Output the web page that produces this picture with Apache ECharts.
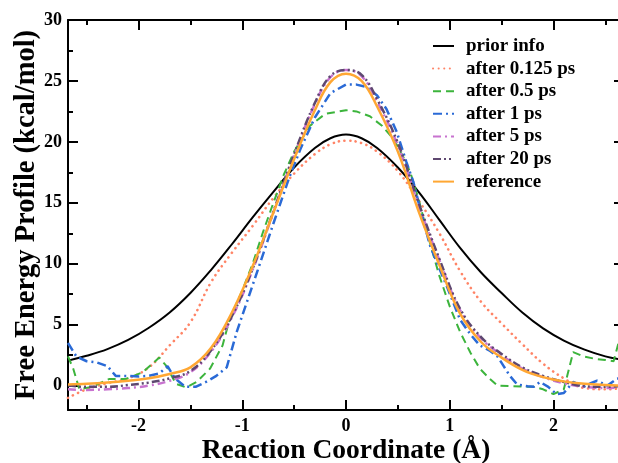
<!DOCTYPE html>
<html>
<head>
<meta charset="utf-8">
<script src="https://cdn.jsdelivr.net/npm/echarts@6/dist/echarts.min.js"></script>
<style>html,body{margin:0;padding:0;background:#fff}#c{width:618px;height:463px}</style>
</head>
<body>
<div id="c"></div>
<script>
// ---- data ----
const seriesNames = ['prior info','after 0.125 ps','after 0.5 ps','after 1 ps','after 5 ps','after 20 ps','reference'];
const xMajorTicks = [-2,-1,0,1,2];
const xMinorTicks = [-2.5,-1.5,-0.5,0.5,1.5,2.5];
const yMajorTicks = [0,5,10,15,20,25,30];
const yMinorTicks = [2.5,7.5,12.5,17.5,22.5,27.5];

const smoothX = [-2.68,-2.5,-2.3,-2.1,-1.9,-1.7,-1.5,-1.3,-1.1,-0.9,-0.7,-0.5,-0.3,-0.15,0,0.15,0.3,0.5,0.7,0.9,1.1,1.3,1.5,1.7,1.9,2.1,2.3,2.5,2.68];
const priorY = [2.05,2.45,3.0,3.75,4.75,6.0,7.6,9.5,11.6,13.8,15.9,17.9,19.5,20.3,20.6,20.3,19.5,17.9,15.9,13.6,11.3,9.3,7.6,6.0,4.7,3.7,2.95,2.4,2.1];
const ps0125Y = [-1.0,-0.3,0.2,0.6,1.5,3.3,5.2,8.5,10.9,13.1,15.4,17.4,19.0,19.8,20.1,19.9,19.2,17.6,15.2,12.5,9.4,6.9,5.1,3.4,1.8,0.6,-0.2,-0.3,-0.2];
const ps5Y = [-0.3,-0.35,-0.3,-0.2,0.0,0.4,1.1,2.8,5.6,9.5,14.2,18.9,23.1,25.3,25.9,25.4,23.3,19.7,14.8,10.3,6.2,3.9,2.5,1.4,0.7,0.2,-0.1,-0.2,-0.1];
const ps20Y = [0.0,-0.1,-0.1,0.05,0.25,0.6,1.2,2.9,5.7,9.6,14.3,19.0,23.2,25.4,25.9,25.5,23.5,19.9,15.0,10.4,6.3,4.0,2.6,1.5,0.8,0.3,-0.05,-0.1,0.0];
const referenceY = [0.1,0.15,0.25,0.4,0.6,0.95,1.5,3.1,6.0,9.8,14.2,18.6,22.6,24.9,25.6,25.0,22.9,19.2,14.3,9.9,5.9,3.6,2.3,1.3,0.7,0.35,0.15,0.05,0.0];

const ps05X = [-2.68,-2.63,-2.57,-2.45,-2.28,-2.12,-1.96,-1.8,-1.73,-1.64,-1.54,-1.44,-1.31,-1.19,-1.12,-1.0,-0.9,-0.8,-0.7,-0.6,-0.5,-0.35,-0.2,0,0.1,0.23,0.35,0.46,0.55,0.62,0.7,0.8,0.9,1.0,1.1,1.2,1.29,1.38,1.46,1.6,1.81,1.9,2.0,2.1,2.19,2.29,2.4,2.5,2.58,2.63,2.68];
const ps05Y = [2.4,1.4,-0.3,-0.1,0.55,0.55,1.1,2.3,1.6,0.15,-0.15,0.3,1.4,3.3,5.5,7.8,10.0,12.6,15.0,17.3,19.2,21.3,22.3,22.6,22.5,22.1,21.3,20.2,18.8,17.5,15.3,12.0,9.0,6.5,4.4,2.7,1.4,0.6,0.0,-0.05,-0.1,-0.3,-0.7,-0.3,2.75,2.4,2.2,2.1,2.0,3.6,4.5];

const ps1X = [-2.68,-2.6,-2.5,-2.4,-2.3,-2.22,-2.1,-2.0,-1.9,-1.8,-1.72,-1.65,-1.55,-1.45,-1.35,-1.25,-1.15,-1.05,-0.95,-0.85,-0.7,-0.55,-0.44,-0.3,-0.15,0,0.1,0.2,0.3,0.39,0.49,0.58,0.65,0.73,0.81,0.9,0.97,1.1,1.2,1.29,1.38,1.46,1.52,1.58,1.65,1.75,1.81,1.87,1.95,2.03,2.1,2.19,2.29,2.36,2.42,2.52,2.61,2.68];
const ps1Y = [3.5,2.4,2.0,1.9,1.6,0.8,0.8,0.75,0.8,1.0,1.6,0.6,-0.1,-0.1,0.3,0.8,1.5,4.5,7.0,9.5,13.3,17.0,19.4,22.0,24.0,24.7,24.7,24.5,23.8,22.7,20.8,18.4,16.7,14.0,11.5,9.6,8.2,5.4,4.2,3.3,2.9,2.4,1.6,0.8,0.1,-0.05,-0.1,0.3,-0.1,-0.7,-0.6,0.3,-0.1,0.2,0.4,0.0,0.55,0.7];

const zip = (xs, ys) => xs.map((x, i) => [x, ys[i]]);

const FONT = '"Liberation Serif","Times New Roman",serif';
const XMIN = -2.68, XMAX = 2.68, YMIN = -2, YMAX = 30;

function xAx(grid, pos, major, labels) {
  return {
    type: 'value', gridIndex: grid, position: pos, min: XMIN, max: XMAX,
    axisLine: { show: major, onZero: false, lineStyle: { color: '#000', width: 2 } },
    axisTick: { show: true, inside: true, length: major ? 10 : 5, customValues: major ? xMajorTicks : xMinorTicks, lineStyle: { color: '#000', width: 2 } },
    axisLabel: { show: labels, customValues: xMajorTicks, margin: 7, fontFamily: FONT, fontWeight: 'bold', fontSize: 18, color: '#000' },
    splitLine: { show: false }
  };
}
function yAx(grid, pos, major, labels) {
  return {
    type: 'value', gridIndex: grid, position: pos, min: YMIN, max: YMAX,
    axisLine: { show: major, onZero: false, lineStyle: { color: '#000', width: 2 } },
    axisTick: { show: true, inside: true, length: major ? 10 : 5, customValues: major ? yMajorTicks : yMinorTicks, lineStyle: { color: '#000', width: 2 } },
    axisLabel: { show: labels, customValues: yMajorTicks, margin: 6, fontFamily: FONT, fontWeight: 'bold', fontSize: 18, color: '#000' },
    splitLine: { show: false }
  };
}

const xMain = xAx(0, 'bottom', true, true);
xMain.name = 'Reaction Coordinate (Å)';
xMain.nameLocation = 'middle';
xMain.nameGap = 27;
xMain.nameMoveOverlap = false;
xMain.nameTextStyle = { fontFamily: FONT, fontWeight: 'bold', fontSize: 27.5, color: '#000' };
const yMain = yAx(0, 'left', true, true);
yMain.name = 'Free Energy Profile (kcal/mol)';
yMain.nameLocation = 'middle';
yMain.nameRotate = 90;
yMain.nameGap = 26.5;
yMain.nameMoveOverlap = false;
yMain.nameTextStyle = { fontFamily: FONT, fontWeight: 'bold', fontSize: 28.5, color: '#000' };

const styles = [
  { color: '#000000', width: 2, type: 'solid' },
  { color: '#ff8466', width: 2.6, type: [0.1, 5.5], cap: 'round' },
  { color: '#3cb43c', width: 2, type: [8, 5] },
  { color: '#2a6ad6', width: 2.5, type: [9, 4, 2, 4] },
  { color: '#c873cf', width: 2.5, type: [8, 4, 2, 4] },
  { color: '#5e4870', width: 2.5, type: [8, 3, 2, 3, 2, 3] },
  { color: '#ffa733', width: 2.5, type: 'solid' }
];
const datasets = [
  zip(smoothX, priorY), zip(smoothX, ps0125Y), zip(ps05X, ps05Y), zip(ps1X, ps1Y),
  zip(smoothX, ps5Y), zip(smoothX, ps20Y), zip(smoothX, referenceY)
];
const smoothFlags = [0.4, 0.4, false, false, 0.4, 0.4, 0.4];

const series = seriesNames.map((n, i) => ({
  name: n, type: 'line', xAxisIndex: 0, yAxisIndex: 0,
  data: datasets[i], showSymbol: false, symbol: 'none', smooth: smoothFlags[i],
  lineStyle: styles[i], itemStyle: { color: styles[i].color }, z: 2 + i, animation: false
}));

const gridBox = { left: 68, top: 20, width: 556, height: 390, containLabel: false, outerBoundsMode: 'none' };
const chart = echarts.init(document.getElementById('c'), null, { renderer: 'canvas' });
chart.setOption({
  backgroundColor: '#ffffff',
  animation: false,
  grid: [Object.assign({}, gridBox), Object.assign({}, gridBox)],
  xAxis: [xMain, xAx(0, 'top', true, false), xAx(1, 'bottom', false, false), xAx(1, 'top', false, false)],
  yAxis: [yMain, yAx(0, 'right', true, false), yAx(1, 'left', false, false), yAx(1, 'right', false, false)],
  legend: {
    data: seriesNames, orient: 'vertical', left: 427, top: 31,
    itemWidth: 21, itemHeight: 14, itemGap: 2.6,
    itemStyle: { opacity: 0 },
    textStyle: { fontFamily: FONT, fontWeight: 'bold', fontSize: 19, color: '#000', lineHeight: 20, padding: [0, 0, 0, 7] },
    selectedMode: false
  },
  series: series
});
</script>
</body>
</html>
